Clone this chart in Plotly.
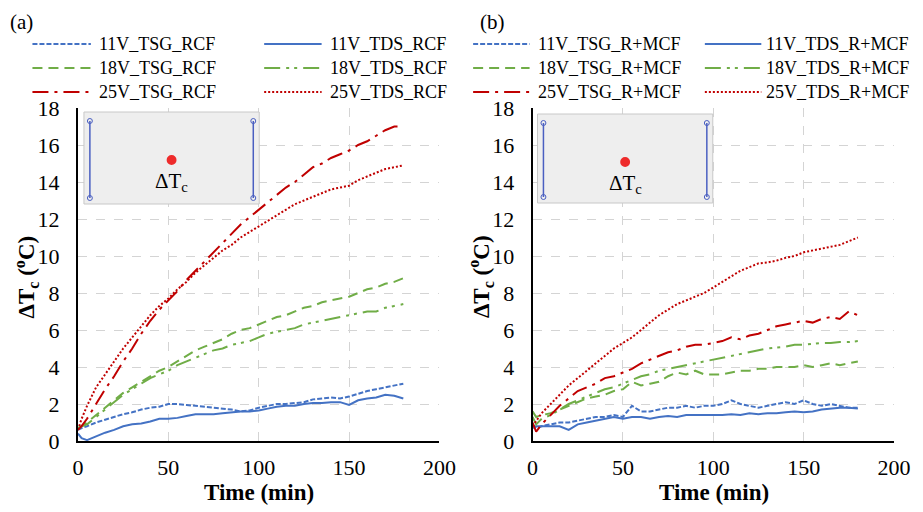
import plotly.graph_objects as go

FONT = 'Liberation Serif'
# the page adds an 8px body margin, so the figure is drawn 8px smaller
W, H = 915, 504
L, R, T, B = 70, 21, 100, 71
PW, PH = W - L - R, H - T - B
X0_REF, Y0_REF = 78, 441  # plot-area origin in reference pixels

# ---- data ----
TIME = [0, 2, 5, 10, 15, 20, 25, 30, 35, 40, 45, 50, 55, 60, 65, 70, 75, 80, 85,
        90, 95, 100, 105, 110, 115, 120, 125, 130, 135, 140, 145, 150, 155, 160,
        165, 170, 175, 180]

# panel (a): RCF
a_11_tsg = [0.6, 0.7, 0.8, 1.0, 1.15, 1.3, 1.45, 1.55, 1.7, 1.8, 1.85, 2.0, 2.0, 1.95,
            1.9, 1.85, 1.8, 1.75, 1.7, 1.6, 1.65, 1.8, 1.9, 2.0, 2.0, 2.05, 2.1, 2.25,
            2.3, 2.35, 2.3, 2.4, 2.55, 2.7, 2.8, 2.9, 3.0, 3.1]
a_11_tds = [0.4, 0.15, 0.05, 0.25, 0.45, 0.6, 0.8, 0.9, 0.95, 1.05, 1.2, 1.2, 1.25,
            1.35, 1.45, 1.45, 1.45, 1.5, 1.55, 1.6, 1.6, 1.65, 1.75, 1.85, 1.9, 1.9,
            2.0, 2.05, 2.05, 2.1, 2.1, 1.95, 2.2, 2.3, 2.35, 2.5, 2.45, 2.3]
a_18_tsg = [0.7, 0.8, 1.0, 1.4, 1.8, 2.2, 2.6, 2.9, 3.2, 3.5, 3.8, 4.0, 4.3, 4.6, 4.9,
            5.1, 5.3, 5.5, 5.8, 6.0, 6.1, 6.3, 6.5, 6.7, 6.8, 7.0, 7.2, 7.3, 7.5, 7.6,
            7.7, 7.8, 8.0, 8.2, 8.3, 8.5, 8.6, 8.8]
a_18_tds = [0.7, 0.8, 0.9, 1.3, 1.7, 2.1, 2.5, 2.8, 3.1, 3.4, 3.6, 3.8, 4.1, 4.3, 4.5,
            4.7, 4.9, 5.0, 5.2, 5.3, 5.4, 5.6, 5.8, 5.9, 6.0, 6.1, 6.3, 6.4, 6.5, 6.6,
            6.7, 6.8, 6.9, 7.0, 7.0, 7.2, 7.3, 7.4]
a_25_tsg = [0.6, 0.8, 1.2, 2.0, 2.8, 3.5, 4.3, 5.0, 5.8, 6.5, 7.1, 7.6, 8.1, 8.7, 9.2,
            9.7, 10.2, 10.7, 11.2, 11.7, 12.1, 12.5, 12.9, 13.3, 13.7, 14.0, 14.4,
            14.8, 15.0, 15.3, 15.5, 15.7, 16.0, 16.2, 16.5, 16.8, 17.0, 17.0]
a_25_tds = [0.6, 1.2, 1.9, 2.9, 3.6, 4.3, 5.0, 5.6, 6.2, 6.8, 7.3, 7.7, 8.2, 8.6, 9.1,
            9.5, 9.9, 10.3, 10.6, 11.0, 11.3, 11.6, 11.9, 12.2, 12.5, 12.8, 13.0,
            13.2, 13.4, 13.6, 13.7, 13.8, 14.1, 14.3, 14.5, 14.7, 14.8, 14.9]

# panel (b): R+MCF
b_11_tsg = [0.9, 0.7, 0.8, 0.9, 1.0, 1.0, 1.1, 1.2, 1.3, 1.3, 1.4, 1.3, 1.9, 1.6, 1.6,
            1.7, 1.8, 1.8, 1.9, 1.8, 1.9, 1.9, 2.0, 2.2, 2.0, 1.9, 1.8, 1.9, 2.0, 2.1,
            2.0, 2.2, 2.0, 1.9, 2.0, 1.9, 1.8, 1.8]
b_11_tds = [0.7, 0.8, 0.8, 0.8, 0.8, 0.6, 0.9, 1.0, 1.1, 1.2, 1.3, 1.2, 1.3, 1.3, 1.2,
            1.3, 1.35, 1.3, 1.4, 1.4, 1.4, 1.4, 1.4, 1.45, 1.4, 1.5, 1.45, 1.5, 1.5,
            1.55, 1.6, 1.55, 1.6, 1.7, 1.75, 1.8, 1.8, 1.75]
b_18_tsg = [1.6, 1.3, 1.4, 1.5, 1.7, 1.9, 2.1, 2.3, 2.4, 2.5, 2.7, 2.8, 3.2, 3.0, 3.1,
            3.2, 3.5, 3.7, 3.6, 3.8, 3.6, 3.6, 3.6, 3.7, 3.8, 3.8, 3.9, 3.9, 4.0, 4.0,
            4.0, 4.1, 4.0, 4.1, 4.2, 4.1, 4.2, 4.3]
b_18_tds = [1.3, 0.9, 1.2, 1.4, 1.7, 2.0, 2.2, 2.4, 2.6, 2.8, 2.9, 3.1, 3.3, 3.5, 3.6,
            3.8, 3.9, 4.0, 4.1, 4.2, 4.3, 4.4, 4.5, 4.6, 4.7, 4.8, 4.9, 5.0, 5.05, 5.1,
            5.2, 5.2, 5.25, 5.3, 5.3, 5.35, 5.35, 5.4]
b_25_tsg = [1.0, 0.5, 0.9, 1.4, 1.9, 2.3, 2.7, 2.9, 3.1, 3.4, 3.5, 3.7, 3.9, 4.2, 4.4,
            4.6, 4.8, 4.9, 5.1, 5.2, 5.2, 5.3, 5.4, 5.6, 5.5, 5.7, 5.8, 6.0, 6.2, 6.3,
            6.4, 6.5, 6.4, 6.6, 6.7, 6.6, 7.0, 6.8]
b_25_tds = [0.8, 1.1, 1.5, 2.0, 2.5, 3.0, 3.4, 3.8, 4.2, 4.6, 5.0, 5.3, 5.6, 6.0, 6.4,
            6.8, 7.1, 7.4, 7.6, 7.8, 8.0, 8.3, 8.6, 8.9, 9.2, 9.4, 9.6, 9.65, 9.75,
            9.9, 10.0, 10.2, 10.3, 10.4, 10.5, 10.6, 10.8, 11.0]

SERIES_A = [('11V_TSG_RCF', a_11_tsg), ('11V_TDS_RCF', a_11_tds),
            ('18V_TSG_RCF', a_18_tsg), ('18V_TDS_RCF', a_18_tds),
            ('25V_TSG_RCF', a_25_tsg), ('25V_TDS_RCF', a_25_tds)]
SERIES_B = [('11V_TSG_R+MCF', b_11_tsg), ('11V_TDS_R+MCF', b_11_tds),
            ('18V_TSG_R+MCF', b_18_tsg), ('18V_TDS_R+MCF', b_18_tds),
            ('25V_TSG_R+MCF', b_25_tsg), ('25V_TDS_R+MCF', b_25_tds)]

# ---- styles ----
BLUE, GREEN, RED = '#4472C4', '#70AD47', '#C00000'
STYLES = [
    (BLUE, '5px,2px'),
    (BLUE, 'solid'),
    (GREEN, '10px,6px'),
    (GREEN, '16px,6px,3px,5px,3px,6px'),
    (RED, '16px,6px,3px,6px'),
    (RED, '2px,2px'),
]


def fx(x):
    # reference pixel x -> paper x
    return (x - X0_REF) / PW


def fy(y):
    # reference pixel y -> paper y
    return (Y0_REF - y) / PH


fig = go.Figure()
for axn, series in (('', SERIES_A), ('2', SERIES_B)):
    for (name, vals), (color, dash) in zip(series, STYLES):
        fig.add_trace(go.Scatter(
            x=TIME, y=vals, mode='lines', name=name, showlegend=False,
            line=dict(color=color, width=2, dash=dash),
            xaxis='x' + axn, yaxis='y' + axn,
        ))

axis_common = dict(
    showline=True, linecolor='black', linewidth=2, zeroline=False,
    showgrid=True, gridcolor='#d4d4d4', griddash='dash', gridwidth=1,
    ticks='outside', tickcolor='rgba(0,0,0,0)',
    tickfont=dict(family=FONT, size=22, color='black'),
)
fig.update_layout(
    width=W, height=H,
    margin=dict(l=L, r=R, t=T, b=B),
    paper_bgcolor='white', plot_bgcolor='white',
    font=dict(family=FONT, color='black'),
    xaxis=dict(domain=[0, 365 / PW], range=[0, 200], dtick=50, anchor='y',
               ticklen=6, **axis_common),
    yaxis=dict(domain=[0, 1], range=[0, 18], dtick=2, anchor='x',
               ticklen=12, **axis_common),
    xaxis2=dict(domain=[459 / PW, 1], range=[0, 200], dtick=50, anchor='y2',
                ticklen=6, **axis_common),
    yaxis2=dict(domain=[0, 1], range=[0, 18], dtick=2, anchor='x2',
                ticklen=12, **axis_common),
)

shapes = []
annotations = []


def text(x, y, s, size, xanchor='left', bold=False, angle=0, yanchor='middle'):
    if bold:
        s = '<b>' + s + '</b>'
    annotations.append(dict(
        x=fx(x), y=fy(y), xref='paper', yref='paper', text=s, showarrow=False,
        xanchor=xanchor, yanchor=yanchor, textangle=angle,
        font=dict(family=FONT, size=size, color='black'),
    ))


# legends, panel labels, axis titles and insets for both panels
panels = [
    dict(series=SERIES_A, label='(a)', lab_x=7, cols=[(32, 91, 97), (266, 324, 330)],
         ytitle_x=25, xtitle_x=261, inset=(84, 112, 261, 204)),
    dict(series=SERIES_B, label='(b)', lab_x=482, cols=[(477, 534, 540), (711, 768, 771)],
         ytitle_x=484, xtitle_x=720, inset=(542, 114, 719, 203)),
]
ROWS = [44, 68, 92]
for p in panels:
    text(p['lab_x'], 8, p['label'], 21, yanchor='top')
    for i, ((name, _), (color, dash)) in enumerate(zip(p['series'], STYLES)):
        x0, x1, tx = p['cols'][i % 2]
        y = ROWS[i // 2]
        shapes.append(dict(type='line', xref='paper', yref='paper',
                           x0=fx(x0), x1=fx(x1), y0=fy(y), y1=fy(y),
                           line=dict(color=color, width=2, dash=dash)))
        text(tx, y, name, 18)
    text(p['ytitle_x'], 277, 'ΔT<sub>c</sub> (<sup>o</sup>C)', 23, xanchor='center',
         bold=True, angle=-90)
    text(p['xtitle_x'], 492, 'Time (min)', 23, xanchor='center', bold=True)

    ix0, iy0, ix1, iy1 = p['inset']
    shapes.append(dict(type='rect', xref='paper', yref='paper', layer='above',
                       x0=fx(ix0), x1=fx(ix1), y0=fy(iy0), y1=fy(iy1),
                       fillcolor='#eeeeee', line=dict(color='#c8c8c8', width=1)))
    for bx in (ix0 + 6, ix1 - 6):
        shapes.append(dict(type='line', xref='paper', yref='paper', layer='above',
                           x0=fx(bx), x1=fx(bx), y0=fy(iy0 + 9), y1=fy(iy1 - 6),
                           line=dict(color='#4a5fc1', width=1.5)))
        for by in (iy0 + 9, iy1 - 6):
            shapes.append(dict(type='circle', xref='paper', yref='paper', layer='above',
                               x0=fx(bx - 2.5), x1=fx(bx + 2.5),
                               y0=fy(by - 2.5), y1=fy(by + 2.5),
                               line=dict(color='#4a5fc1', width=1)))
    cx = (ix0 + ix1) / 2
    shapes.append(dict(type='circle', xref='paper', yref='paper', layer='above',
                       x0=fx(cx - 5), x1=fx(cx + 5), y0=fy(iy0 + 43), y1=fy(iy0 + 53),
                       fillcolor='#ee2b2b', line=dict(width=0)))
    text(cx, iy0 + 70, 'ΔT<sub>c</sub>', 21, xanchor='center')

fig.update_layout(shapes=shapes, annotations=annotations)
fig.write_html('out.html')
